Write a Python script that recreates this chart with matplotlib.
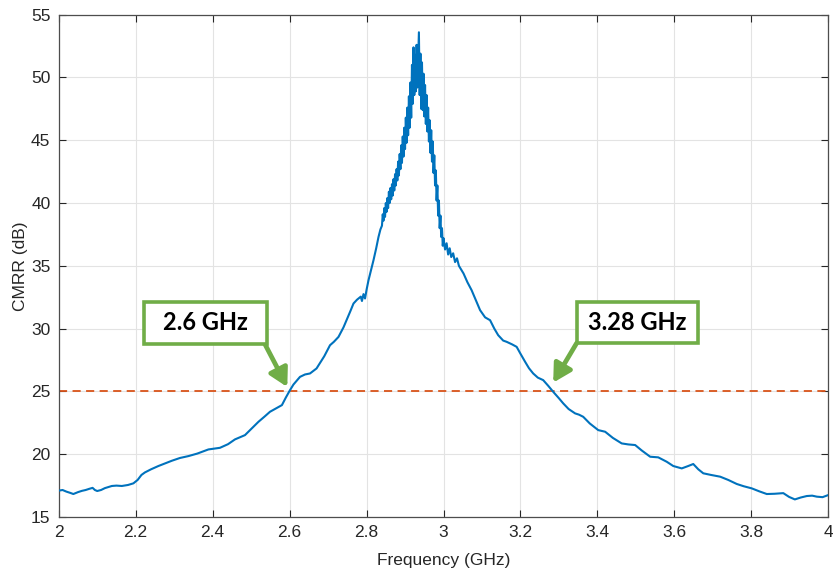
import matplotlib
matplotlib.use("Agg")
import matplotlib.pyplot as plt
from matplotlib.patches import Rectangle

# Measured CMRR versus frequency
freq_ghz = [
    2.000, 2.010, 2.020, 2.030, 2.038, 2.050, 2.060, 2.070, 2.080, 2.088,
    2.094, 2.100, 2.110, 2.120, 2.138, 2.150, 2.164, 2.180, 2.194, 2.205,
    2.215, 2.224, 2.240, 2.259, 2.275, 2.294, 2.315, 2.337, 2.360, 2.389,
    2.405, 2.419, 2.440, 2.458, 2.484, 2.500, 2.519, 2.535, 2.549, 2.565,
    2.580, 2.590, 2.600, 2.610, 2.627, 2.640, 2.653, 2.670, 2.690, 2.705,
    2.715, 2.727, 2.740, 2.748, 2.758, 2.766, 2.775, 2.785, 2.788, 2.792,
    2.796, 2.800, 2.805, 2.812, 2.818, 2.825, 2.831, 2.836,
    2.840, 2.842, 2.844, 2.846, 2.848, 2.850, 2.852, 2.854, 2.856, 2.858,
    2.860, 2.862, 2.864, 2.866, 2.868, 2.870, 2.872, 2.874, 2.876, 2.878,
    2.880, 2.882, 2.884, 2.886, 2.888, 2.890, 2.892, 2.894, 2.896, 2.898,
    2.900, 2.902, 2.904, 2.906, 2.908, 2.910, 2.912, 2.914, 2.916, 2.918,
    2.920, 2.922, 2.924, 2.926, 2.928, 2.930, 2.932, 2.934, 2.936, 2.938,
    2.940, 2.942, 2.944, 2.946, 2.948, 2.950, 2.952, 2.954, 2.956, 2.958,
    2.960, 2.962, 2.964, 2.966, 2.968, 2.970, 2.972, 2.974, 2.976, 2.978,
    2.980, 2.982, 2.984, 2.986, 2.988, 2.990, 2.992, 2.994, 2.996, 2.998,
    3.000, 3.004, 3.008, 3.012, 3.016, 3.020, 3.025, 3.030, 3.035, 3.040,
    3.052, 3.062, 3.073, 3.085, 3.095, 3.108, 3.121, 3.132, 3.142, 3.155,
    3.164, 3.178, 3.190, 3.200, 3.212, 3.222, 3.233, 3.245, 3.259, 3.272,
    3.285, 3.300, 3.311, 3.325, 3.342, 3.352, 3.363, 3.380, 3.402, 3.420,
    3.440, 3.463, 3.480, 3.498, 3.515, 3.537, 3.558, 3.580, 3.597, 3.619,
    3.635, 3.649, 3.662, 3.675, 3.695, 3.719, 3.740, 3.762, 3.780, 3.801,
    3.820, 3.840, 3.860, 3.883, 3.898, 3.913, 3.928, 3.944, 3.958, 3.970,
    3.985, 4.000,
]
cmrr_db = [
    17.10, 17.15, 17.02, 16.92, 16.83, 16.98, 17.08, 17.15, 17.25, 17.32,
    17.15, 17.07, 17.15, 17.30, 17.47, 17.50, 17.47, 17.55, 17.68, 17.95,
    18.35, 18.55, 18.80, 19.06, 19.25, 19.48, 19.70, 19.85, 20.05, 20.38,
    20.45, 20.51, 20.80, 21.18, 21.52, 22.00, 22.58, 23.00, 23.38, 23.65,
    23.91, 24.50, 25.05, 25.55, 26.16, 26.35, 26.43, 26.83, 27.80, 28.68,
    28.95, 29.34, 30.10, 30.67, 31.40, 32.00, 32.30, 32.55, 32.20, 32.75,
    32.40, 33.10, 33.85, 34.70, 35.45, 36.40, 37.30, 37.90,
    38.2, 39.1, 38.6, 39.6, 38.9, 40.0, 39.3, 40.4, 39.6, 40.9,
    40.0, 41.2, 40.3, 41.5, 40.6, 41.9, 41.0, 42.3, 41.4, 42.7,
    41.8, 43.3, 42.2, 43.9, 42.7, 44.6, 43.2, 45.3, 43.7, 46.0,
    44.3, 46.8, 44.8, 47.6, 45.4, 48.5, 46.0, 49.6, 46.8, 51.0,
    47.9, 52.4, 48.6, 51.8, 48.9, 52.6, 49.2, 51.5, 53.6, 48.6,
    51.9, 47.5, 51.2, 47.4, 50.3, 46.9, 49.4, 46.3, 48.6, 45.7,
    47.6, 44.9, 46.6, 44.0, 45.8, 43.3, 44.9, 42.4, 43.8, 41.4,
    42.6, 40.2, 41.4, 39.0, 40.2, 38.0, 39.0, 37.3, 38.0, 36.6,
    37.2, 36.3, 36.8, 35.9, 36.4, 35.7, 36.0, 35.3, 35.6, 35.0,
    34.39, 33.70, 33.06, 32.20, 31.47, 30.90, 30.67, 30.00, 29.48, 29.05,
    28.95, 28.75, 28.55, 28.00, 27.36, 26.85, 26.43, 26.10, 25.90, 25.45,
    24.97, 24.45, 24.05, 23.60, 23.25, 23.15, 22.98, 22.45, 21.92, 21.79,
    21.30, 20.86, 20.78, 20.73, 20.30, 19.80, 19.75, 19.40, 19.06, 18.87,
    19.05, 19.22, 18.80, 18.48, 18.35, 18.21, 17.95, 17.63, 17.45, 17.28,
    17.05, 16.83, 16.85, 16.90, 16.60, 16.40, 16.55, 16.67, 16.70, 16.62,
    16.58, 16.75,
]

threshold_db = 25
band_edges_ghz = [2.6, 3.28]
band_labels = ["2.6 GHz", "3.28 GHz"]

x_ticks = [2.0, 2.2, 2.4, 2.6, 2.8, 3.0, 3.2, 3.4, 3.6, 3.8, 4.0]
x_tick_labels = ["2", "2.2", "2.4", "2.6", "2.8", "3", "3.2", "3.4", "3.6", "3.8", "4"]
y_ticks = [15, 20, 25, 30, 35, 40, 45, 50, 55]

BLUE = "#0072BD"
ORANGE = "#D95319"
GREEN = "#70AD47"
DARK = "#262626"

plt.rcParams["font.family"] = ["Liberation Sans", "DejaVu Sans"]

fig = plt.figure(figsize=(8.33, 5.74), dpi=100)
ax = fig.add_axes([0.0705, 0.0993, 0.9239, 0.8751])

ax.plot(freq_ghz, cmrr_db, color=BLUE, lw=1.5, zorder=3)
ax.axhline(threshold_db, color=ORANGE, lw=1.3, ls=(0, (4.5, 3.0)), zorder=2)

ax.set_xlim(2, 4)
ax.set_ylim(15, 55)
ax.set_xticks(x_ticks)
ax.set_xticklabels(x_tick_labels)
ax.set_yticks(y_ticks)

ax.grid(True, color="#e3e3e3", lw=0.8)
ax.set_axisbelow(True)
ax.tick_params(direction="in", top=True, right=True, length=5, width=0.8,
               colors=DARK, labelsize=12.5, pad=6)
for sp in ax.spines.values():
    sp.set_color("#4d4d4d")
    sp.set_linewidth(0.9)

ax.set_xlabel("Frequency (GHz)", fontsize=12.5, color=DARK, labelpad=9)
ax.set_ylabel("CMRR (dB)", fontsize=12.5, color=DARK, labelpad=2)

# Callout boxes with arrows pointing at the threshold crossings
boxes = [
    # (center x, center y, width, height, arrow start, arrow tip)
    (2.381, 30.47, 0.319, 3.31, (2.531, 29.05), (2.594, 25.35)),
    (3.504, 30.50, 0.316, 3.26, (3.346, 28.85), (3.285, 25.70)),
]
for (cx, cy, w, h, start, tip), label in zip(boxes, band_labels):
    ax.add_patch(Rectangle((cx - w / 2, cy - h / 2), w, h, facecolor="white",
                           edgecolor=GREEN, lw=2.6, zorder=5, clip_on=False))
    ax.text(cx, cy, label, ha="center", va="center", fontsize=17,
            fontweight="bold", family=["Lato", "DejaVu Sans"], color="black",
            zorder=6)
    ax.annotate("", xy=tip, xytext=start,
                arrowprops=dict(arrowstyle="-|>,head_length=0.9,head_width=0.5",
                                color=GREEN, lw=3.4, mutation_scale=12,
                                shrinkA=0, shrinkB=0),
                zorder=4)

fig.savefig("out.png", dpi=100)
